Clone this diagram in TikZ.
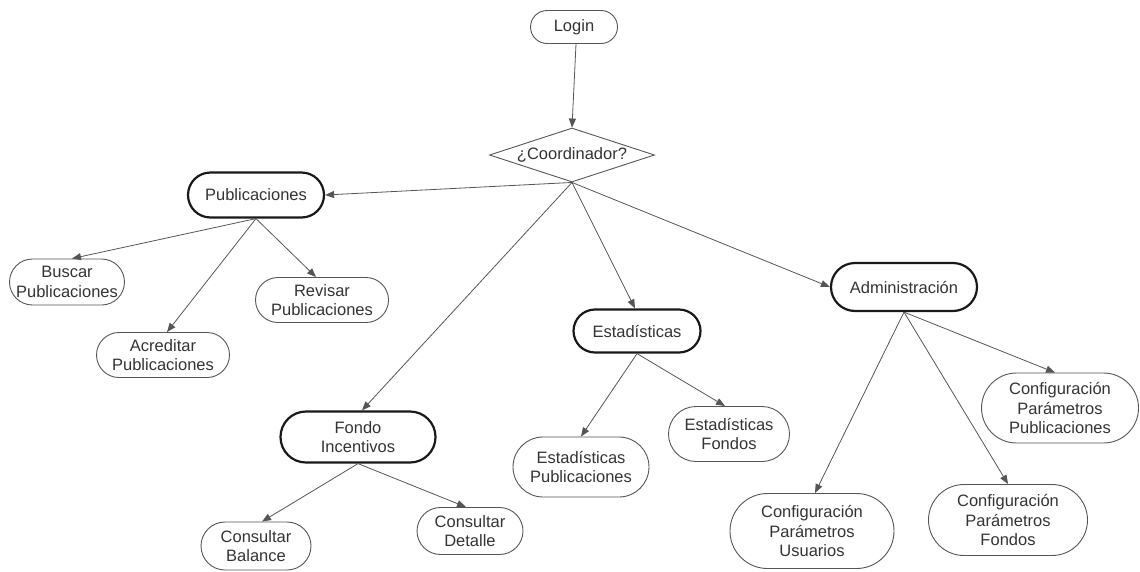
\documentclass[tikz,border=0pt]{standalone}
\usepackage{fontspec}
\setmainfont{Liberation Sans}
\usetikzlibrary{shapes.misc,shapes.geometric,arrows.meta}
\definecolor{txt}{HTML}{333333}
\definecolor{edge}{HTML}{555555}
\begin{document}
\begin{tikzpicture}[x=1pt,y=-1pt,
  every node/.style={font=\fontsize{16.5}{19.5}\selectfont, text=txt, align=center, inner sep=0pt},
  leaf/.style={rounded rectangle, draw=edge, line width=0.9pt},
  group/.style={rounded rectangle, draw=black!90, line width=2.2pt},
  cond/.style={diamond, draw=edge, line width=0.9pt, aspect=3},
  link/.style={draw=edge, line width=0.8pt, -{Triangle[length=9pt,width=7pt]}}
]
\useasboundingbox (0,0) rectangle (1140,571);

% top of the flow
\node[leaf, minimum width=87pt, minimum height=33pt] (login) at (574,27) {Login};
\node[cond, minimum width=165pt, minimum height=54pt] (coord) at (572,155) {¿Coordinador?};

% main sections
\node[group, minimum width=136pt, minimum height=45pt] (pub) at (256,195) {Publicaciones};
\node[group, minimum width=155pt, minimum height=51pt] (fondo) at (358,437) {Fondo\\Incentivos};
\node[group, minimum width=127pt, minimum height=43pt] (est) at (637,331) {Estadísticas};
\node[group, minimum width=146pt, minimum height=48pt] (admin) at (904,287) {Administración};

% publicaciones
\node[leaf, minimum width=115pt, minimum height=46pt] (buscar) at (67,282) {Buscar\\Publicaciones};
\node[leaf, minimum width=133pt, minimum height=45pt] (acred) at (163,355) {Acreditar\\Publicaciones};
\node[leaf, minimum width=133pt, minimum height=45pt] (revisar) at (322,300) {Revisar\\Publicaciones};

% fondo incentivos
\node[leaf, minimum width=110pt, minimum height=48pt] (balance) at (256,546) {Consultar\\Balance};
\node[leaf, minimum width=106pt, minimum height=47pt] (detalle) at (470,531) {Consultar\\Detalle};

% estadisticas
\node[leaf, minimum width=136pt, minimum height=60pt] (estpub) at (581,467) {Estadísticas\\Publicaciones};
\node[leaf, minimum width=121pt, minimum height=55pt] (estfon) at (729,434) {Estadísticas\\Fondos};

% administracion
\node[leaf, minimum width=164pt, minimum height=75pt] (cfgusr) at (812,531) {Configuración\\Parámetros\\Usuarios};
\node[leaf, minimum width=159pt, minimum height=71pt] (cfgfon) at (1008,520) {Configuración\\Parámetros\\Fondos};
\node[leaf, minimum width=157pt, minimum height=70pt] (cfgpub) at (1060,408) {Configuración\\Parámetros\\Publicaciones};

% connectors
\draw[link] ([xshift=2pt]login.south) -- (coord.north);
\draw[link] (coord.south) -- (pub.east);
\draw[link] (coord.south) -- ([xshift=4pt]fondo.north);
\draw[link] (coord.south) -- ([xshift=-2pt]est.north);
\draw[link] (coord.south) -- (admin.west);

\draw[link] (pub.south) -- ([xshift=5pt]buscar.north);
\draw[link] (pub.south) -- ([xshift=4pt]acred.north);
\draw[link] (pub.south) -- ([xshift=-6pt]revisar.north);

\draw[link] (fondo.south) -- ([xshift=6pt]balance.north);
\draw[link] (fondo.south) -- ([xshift=-4pt]detalle.north);

\draw[link] (est.south) -- (estpub.north);
\draw[link] (est.south) -- ([xshift=-4pt]estfon.north);

\draw[link] (admin.south) -- ([xshift=3pt]cfgusr.north);
\draw[link] (admin.south) -- (cfgfon.north);
\draw[link] (admin.south) -- ([xshift=-5pt]cfgpub.north);
\end{tikzpicture}
\end{document}
